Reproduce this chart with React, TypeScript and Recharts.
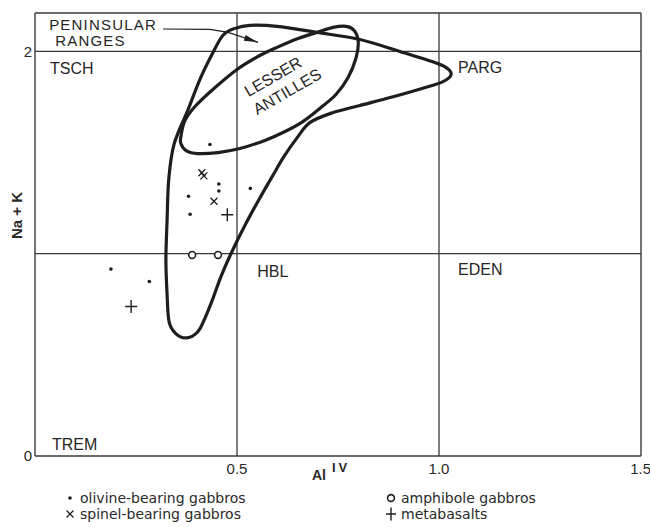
import React from 'react'
import {
  ScatterChart, Scatter, XAxis, YAxis, ReferenceLine, ReferenceDot, Legend,
} from 'recharts'

// Amphibole classification: Al(IV) against Na + K (formula units)
const olivineGabbros = [
  { x: 0.433, y: 1.54 },
  { x: 0.455, y: 1.345 },
  { x: 0.455, y: 1.31 },
  { x: 0.533, y: 1.323 },
  { x: 0.38, y: 1.284 },
  { x: 0.384, y: 1.195 },
  { x: 0.188, y: 0.924 },
  { x: 0.283, y: 0.863 },
]
const spinelGabbros = [
  { x: 0.413, y: 1.4 },
  { x: 0.418, y: 1.385 },
  { x: 0.443, y: 1.259 },
]
const amphiboleGabbros = [
  { x: 0.389, y: 0.994 },
  { x: 0.453, y: 0.994 },
]
const metabasalts = [
  { x: 0.476, y: 1.193 },
  { x: 0.238, y: 0.739 },
]

// field outlines, traced in order round each closed loop
const peninsularRanges = [
  { x: 0.376, y: 0.584 }, { x: 0.403, y: 0.614 }, { x: 0.421, y: 0.683 },
  { x: 0.441, y: 0.782 }, { x: 0.46, y: 0.886 }, { x: 0.485, y: 1.0 },
  { x: 0.522, y: 1.149 }, { x: 0.557, y: 1.277 }, { x: 0.587, y: 1.381 },
  { x: 0.616, y: 1.48 }, { x: 0.649, y: 1.574 }, { x: 0.681, y: 1.649 },
  { x: 0.738, y: 1.698 }, { x: 0.804, y: 1.733 }, { x: 0.879, y: 1.772 },
  { x: 0.958, y: 1.817 }, { x: 1.01, y: 1.851 }, { x: 1.03, y: 1.886 },
  { x: 1.017, y: 1.921 }, { x: 0.983, y: 1.95 }, { x: 0.903, y: 2.0 },
  { x: 0.804, y: 2.059 }, { x: 0.698, y: 2.094 }, { x: 0.599, y: 2.124 },
  { x: 0.532, y: 2.129 }, { x: 0.495, y: 2.114 }, { x: 0.465, y: 2.079 },
  { x: 0.438, y: 1.985 }, { x: 0.408, y: 1.861 }, { x: 0.379, y: 1.713 },
  { x: 0.344, y: 1.54 }, { x: 0.331, y: 1.366 }, { x: 0.327, y: 1.168 },
  { x: 0.324, y: 0.97 }, { x: 0.327, y: 0.797 }, { x: 0.332, y: 0.663 },
  { x: 0.349, y: 0.604 },
]
const lesserAntilles = [
  { x: 0.361, y: 1.579 }, { x: 0.371, y: 1.658 }, { x: 0.396, y: 1.728 },
  { x: 0.443, y: 1.817 }, { x: 0.5, y: 1.911 }, { x: 0.552, y: 1.975 },
  { x: 0.599, y: 2.02 }, { x: 0.651, y: 2.064 }, { x: 0.698, y: 2.094 },
  { x: 0.738, y: 2.119 }, { x: 0.77, y: 2.124 }, { x: 0.79, y: 2.104 },
  { x: 0.8, y: 2.05 }, { x: 0.795, y: 1.97 }, { x: 0.775, y: 1.871 },
  { x: 0.745, y: 1.787 }, { x: 0.705, y: 1.718 }, { x: 0.663, y: 1.653 },
  { x: 0.619, y: 1.604 }, { x: 0.569, y: 1.56 }, { x: 0.507, y: 1.52 },
  { x: 0.453, y: 1.5 }, { x: 0.403, y: 1.495 }, { x: 0.374, y: 1.51 },
  { x: 0.361, y: 1.545 },
]
// pointer from the "PENINSULAR RANGES" caption to its outline
const pointer = [
  { x: 0.317, y: 2.111 }, { x: 0.433, y: 2.109 }, { x: 0.478, y: 2.094 }, { x: 0.552, y: 2.045 },
]

const xTicks = [0.5, 1.0, 1.5]
const yTicks = [0, 2]
const xBoundaries = [0.5, 1.0]
const yBoundaries = [1, 2]
const legendOrder = [
  'olivine-bearing gabbros', 'spinel-bearing gabbros', 'amphibole gabbros', 'metabasalts',
]

const INK = '#1e1e1e'
const RULE = '#3a3a3a'
const SANS = '"Liberation Sans", Arial, sans-serif'
const X_MAX = 1.5
const Y_MAX = 2.19

// closed Catmull-Rom spline, passes through every point of the loop
const closedSpline = (ctx: any) => {
  let pts: number[][] = []
  return {
    areaStart() {},
    areaEnd() {},
    lineStart() { pts = [] },
    point(x: number, y: number) { pts.push([+x, +y]) },
    lineEnd() {
      const n = pts.length
      if (n < 3) return
      ctx.moveTo(pts[0][0], pts[0][1])
      for (let i = 0; i < n; i++) {
        const a = pts[(i + n - 1) % n], b = pts[i], c = pts[(i + 1) % n], d = pts[(i + 2) % n]
        ctx.bezierCurveTo(
          b[0] + (c[0] - a[0]) / 6, b[1] + (c[1] - a[1]) / 6,
          c[0] - (d[0] - b[0]) / 6, c[1] - (d[1] - b[1]) / 6,
          c[0], c[1],
        )
      }
      ctx.closePath()
    },
  }
}

const mark = {
  dot: (cx: number, cy: number) => <circle cx={cx} cy={cy} r={1.8} fill={INK} />,
  cross: (cx: number, cy: number) => (
    <path d={`M${cx - 3.5},${cy - 3.5}L${cx + 3.5},${cy + 3.5}M${cx + 3.5},${cy - 3.5}L${cx - 3.5},${cy + 3.5}`}
      stroke={INK} strokeWidth={1.3} fill="none" />
  ),
  ring: (cx: number, cy: number) => <circle cx={cx} cy={cy} r={3.4} fill="#fff" stroke={INK} strokeWidth={1.6} />,
  plus: (cx: number, cy: number) => (
    <path d={`M${cx - 6},${cy}L${cx + 6},${cy}M${cx},${cy - 6.5}L${cx},${cy + 6.5}`}
      stroke={INK} strokeWidth={1.4} fill="none" />
  ),
}

const legendMarks: Record<string, (cx: number, cy: number) => React.ReactElement> = {
  'olivine-bearing gabbros': mark.dot,
  'spinel-bearing gabbros': mark.cross,
  'amphibole gabbros': mark.ring,
  'metabasalts': mark.plus,
}

function LegendBox({ payload }: any) {
  const items = (payload || [])
    .filter((p: any) => legendMarks[p.value])
    .sort((a: any, b: any) => legendOrder.indexOf(a.value) - legendOrder.indexOf(b.value))
  return (
    <div
      style={{
        height: 44, boxSizing: 'border-box', paddingTop: 7, paddingLeft: 65,
        display: 'grid', gridTemplateColumns: '321px auto', gridTemplateRows: '16px 16px',
        gridAutoFlow: 'column', fontFamily: '"DejaVu Sans", sans-serif', fontSize: 14, color: '#2a2a2a',
      }}
    >
      {items.map((p: any) => (
        <div key={p.value} style={{ display: 'flex', alignItems: 'center', gap: 5 }}>
          <svg width={10} height={14}>{legendMarks[p.value](5, 7)}</svg>
          <span>{p.value}</span>
        </div>
      ))}
    </div>
  )
}

function PointerLine({ points }: any) {
  if (!points || points.length < 2) return <g />
  const d = points.map((p: any, i: number) => `${i ? 'L' : 'M'}${p.x},${p.y}`).join('')
  const tip = points[points.length - 1]
  const prev = points[points.length - 2]
  const ang = Math.atan2(tip.y - prev.y, tip.x - prev.x)
  const len = 14, half = 3
  const bx = tip.x - len * Math.cos(ang), by = tip.y - len * Math.sin(ang)
  const head = `M${tip.x},${tip.y}L${bx + half * Math.sin(ang)},${by - half * Math.cos(ang)}L${bx - half * Math.sin(ang)},${by + half * Math.cos(ang)}Z`
  return (
    <g>
      <path d={d} fill="none" stroke={INK} strokeWidth={1.2} />
      <path d={head} fill={INK} />
    </g>
  )
}

function YTitle({ viewBox }: any) {
  const x = viewBox.x + 16
  const y = viewBox.y + viewBox.height / 2 - 19
  return (
    <text x={x} y={y} transform={`rotate(-90, ${x}, ${y})`} textAnchor="middle" dominantBaseline="central"
      fontFamily={SANS} fontSize={15} fontWeight="bold" fill="#2a2a2a">
      Na + K
    </text>
  )
}

function XTitle({ viewBox }: any) {
  const x = viewBox.x + 277
  const y = viewBox.y + 24
  return (
    <text x={x} y={y} fontFamily={SANS} fill="#2a2a2a" fontWeight="bold">
      <tspan fontSize={14}>Al</tspan>
      <tspan fontSize={13} dx={6} dy={-8} letterSpacing={3}>IV</tspan>
    </text>
  )
}

// field name anchored by its left edge (or centre) in data coordinates
const fieldName = (x: number, y: number, text: string, extra: any = {}) => (
  <ReferenceDot
    key={text}
    x={x}
    y={y}
    r={0}
    fill="none"
    stroke="none"
    label={{
      value: text, position: 'right', offset: 0,
      fontFamily: SANS, fontSize: 16, fill: '#262626', ...extra,
    }}
  />
)

const outline = (name: string, data: any[]) => (
  <Scatter
    key={name}
    name={name}
    data={data}
    legendType="none"
    fill={INK}
    shape={() => <g />}
    line={{ stroke: INK, strokeWidth: 3.2 }}
    lineType="joint"
    lineJointType={closedSpline as any}
    isAnimationActive={false}
  />
)

export default function App() {
  return (
    <div style={{ position: 'absolute', left: 0, top: 0, width: 650, height: 527, background: '#fff' }}>
      <ScatterChart width={650} height={527} margin={{ top: 13, right: 9, bottom: 0, left: 0 }}>
        <XAxis
          type="number"
          dataKey="x"
          domain={[0, X_MAX]}
          ticks={xTicks}
          tickFormatter={(v: number) => v.toFixed(1)}
          tickLine={false}
          tickSize={0}
          tickMargin={7}
          height={27}
          axisLine={{ stroke: RULE, strokeWidth: 1.4 }}
          tick={{ fontSize: 15, fill: '#2a2a2a', fontFamily: SANS }}
          label={XTitle}
          allowDataOverflow
        />
        <YAxis
          type="number"
          dataKey="y"
          domain={[0, Y_MAX]}
          ticks={yTicks}
          tickLine={false}
          tickSize={0}
          tickMargin={3}
          width={35}
          axisLine={{ stroke: RULE, strokeWidth: 1.4 }}
          tick={{ fontSize: 15, fill: '#2a2a2a', fontFamily: SANS }}
          label={YTitle}
          allowDataOverflow
        />

        {/* frame and field boundaries */}
        <ReferenceLine y={Y_MAX} stroke={RULE} strokeWidth={1.4} />
        <ReferenceLine x={X_MAX} stroke={RULE} strokeWidth={1.4} />
        {xBoundaries.map(v => <ReferenceLine key={`x${v}`} x={v} stroke={RULE} strokeWidth={1.3} />)}
        {yBoundaries.map(v => <ReferenceLine key={`y${v}`} y={v} stroke={RULE} strokeWidth={1.3} />)}

        {fieldName(0.035, 2.132, 'PENINSULAR', { fontSize: 15, letterSpacing: 1.2 })}
        {fieldName(0.05, 2.052, 'RANGES', { fontSize: 15, letterSpacing: 1.2 })}
        {fieldName(0.037, 1.918, 'TSCH')}
        {fieldName(1.047, 1.921, 'PARG')}
        {fieldName(0.55, 0.913, 'HBL')}
        {fieldName(1.047, 0.921, 'EDEN')}
        {fieldName(0.042, 0.059, 'TREM')}
        {fieldName(0.589, 1.876, 'LESSER', { position: 'center', angle: -30 })}
        {fieldName(0.624, 1.802, 'ANTILLES', { position: 'center', angle: -30 })}

        {outline('Peninsular Ranges', peninsularRanges)}
        {outline('Lesser Antilles', lesserAntilles)}
        <Scatter
          name="pointer"
          data={pointer}
          legendType="none"
          fill={INK}
          shape={() => <g />}
          line={(p: any) => <PointerLine {...p} />}
          lineType="joint"
          isAnimationActive={false}
        />

        <Scatter name="olivine-bearing gabbros" data={olivineGabbros} fill={INK}
          shape={(p: any) => mark.dot(p.cx, p.cy)} isAnimationActive={false} />
        <Scatter name="spinel-bearing gabbros" data={spinelGabbros} fill={INK}
          shape={(p: any) => mark.cross(p.cx, p.cy)} isAnimationActive={false} />
        <Scatter name="amphibole gabbros" data={amphiboleGabbros} fill={INK}
          shape={(p: any) => mark.ring(p.cx, p.cy)} isAnimationActive={false} />
        <Scatter name="metabasalts" data={metabasalts} fill={INK}
          shape={(p: any) => mark.plus(p.cx, p.cy)} isAnimationActive={false} />

        <Legend verticalAlign="bottom" content={LegendBox} wrapperStyle={{ left: 0, width: 650 }} />
      </ScatterChart>
    </div>
  )
}
